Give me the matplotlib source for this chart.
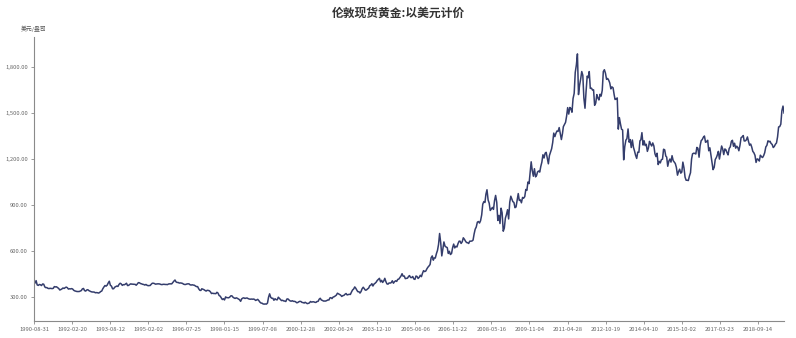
import matplotlib
matplotlib.use('Agg')
import matplotlib.pyplot as plt
import matplotlib.dates as mdates
import matplotlib.ticker as mticker
import pandas as pd

plt.rcParams['font.family'] = ['Noto Sans CJK SC', 'DejaVu Sans']

title = '伦敦现货黄金:以美元计价'
unit = '美元/盎司'

# 半月一个点: 每年 (15日, 月末) x 12 个月
p1990 = [395, 392, 408, 380, 377, 383, 381, 376, 386]
p1991 = [385, 367, 362, 363, 358, 356, 358, 357, 356, 358, 369, 367,
         368, 362, 357, 347, 350, 354, 360, 357, 362, 366, 362, 353]
p1992 = [355, 354, 356, 353, 345, 341, 339, 337, 337, 337, 340, 343,
         354, 357, 343, 340, 347, 349, 343, 339, 336, 334, 334, 333]
p1993 = [329, 330, 329, 327, 330, 337, 340, 355, 366, 376, 372, 378,
         392, 404, 378, 372, 355, 355, 365, 369, 373, 370, 383, 391]
p1994 = [387, 377, 382, 381, 385, 391, 376, 377, 383, 387, 385, 385,
         384, 384, 378, 386, 395, 394, 389, 387, 384, 383, 379, 383]
p1995 = [378, 375, 376, 376, 384, 391, 391, 389, 385, 386, 387, 387,
         386, 383, 382, 384, 384, 383, 383, 382, 386, 387, 387, 387]
p1996 = [396, 405, 412, 400, 396, 396, 392, 393, 392, 390, 385, 383,
         383, 386, 387, 387, 381, 379, 381, 379, 378, 373, 369, 369]
p1997 = [355, 345, 344, 355, 352, 349, 344, 340, 345, 344, 342, 335,
         324, 326, 324, 324, 323, 332, 327, 311, 307, 296, 285, 290]
p1998 = [282, 302, 297, 297, 296, 301, 309, 309, 300, 295, 292, 296,
         293, 288, 284, 273, 289, 294, 296, 292, 294, 295, 291, 288]
p1999 = [287, 288, 287, 288, 286, 279, 282, 286, 278, 268, 262, 261,
         256, 255, 256, 255, 262, 300, 322, 299, 293, 293, 280, 290]
p2000 = [284, 283, 300, 293, 286, 278, 280, 276, 275, 272, 288, 289,
         282, 276, 274, 277, 273, 273, 271, 264, 265, 270, 273, 272]
p2001 = [266, 265, 262, 267, 263, 258, 260, 263, 272, 268, 270, 270,
         267, 266, 272, 273, 287, 293, 282, 279, 275, 275, 275, 278]
p2002 = [282, 282, 296, 297, 291, 301, 303, 308, 313, 326, 322, 318,
         314, 305, 310, 312, 319, 324, 315, 317, 319, 318, 333, 347]
p2003 = [353, 367, 358, 347, 336, 336, 327, 337, 355, 365, 356, 346,
         347, 354, 359, 375, 379, 388, 373, 386, 391, 398, 409, 416]
p2004 = [423, 400, 410, 396, 405, 423, 402, 387, 385, 393, 392, 395,
         407, 391, 401, 407, 403, 416, 418, 428, 438, 453, 437, 438]
p2005 = [421, 423, 424, 434, 441, 428, 428, 435, 419, 416, 438, 435,
         422, 430, 443, 434, 456, 473, 467, 470, 484, 495, 503, 513]
p2006 = [557, 569, 541, 556, 555, 584, 605, 644, 715, 653, 569, 613,
         660, 632, 627, 623, 585, 599, 578, 585, 623, 646, 621, 632]
p2007 = [627, 650, 665, 665, 650, 661, 687, 678, 666, 656, 655, 650,
         665, 665, 666, 672, 712, 743, 757, 789, 793, 783, 798, 836]
p2008 = [906, 923, 917, 971, 1000, 933, 913, 865, 875, 885, 872, 930,
         963, 918, 800, 833, 780, 880, 850, 730, 750, 815, 838, 870]
p2009 = [810, 919, 958, 942, 923, 917, 883, 888, 929, 975, 930, 934,
         915, 950, 945, 955, 1002, 996, 1050, 1040, 1114, 1182, 1125, 1088]
p2010 = [1137, 1084, 1094, 1116, 1122, 1115, 1152, 1180, 1228, 1207, 1238, 1244,
         1208, 1169, 1223, 1246, 1267, 1307, 1369, 1346, 1368, 1383, 1380, 1405]
p2011 = [1367, 1327, 1365, 1411, 1424, 1439, 1480, 1535, 1493, 1536, 1528, 1505,
         1594, 1628, 1764, 1813, 1885, 1620, 1680, 1722, 1770, 1746, 1598, 1531]
p2012 = [1640, 1740, 1730, 1770, 1660, 1662, 1650, 1651, 1550, 1565, 1620, 1598,
         1585, 1622, 1610, 1648, 1770, 1782, 1760, 1719, 1725, 1714, 1696, 1657]
p2013 = [1670, 1664, 1620, 1588, 1592, 1598, 1395, 1470, 1430, 1394, 1390, 1195,
         1280, 1323, 1333, 1396, 1310, 1327, 1275, 1324, 1277, 1253, 1225, 1204]
p2014 = [1245, 1244, 1318, 1326, 1372, 1291, 1319, 1288, 1296, 1250, 1272, 1315,
         1298, 1285, 1305, 1285, 1235, 1216, 1238, 1164, 1185, 1175, 1196, 1199]
p2015 = [1264, 1260, 1220, 1213, 1153, 1187, 1200, 1180, 1222, 1190, 1180, 1171,
         1146, 1095, 1118, 1134, 1108, 1115, 1180, 1142, 1082, 1062, 1062, 1060]
p2016 = [1088, 1111, 1200, 1234, 1238, 1237, 1233, 1276, 1270, 1212, 1287, 1320,
         1327, 1342, 1350, 1309, 1314, 1322, 1254, 1273, 1226, 1178, 1131, 1146]
p2017 = [1197, 1210, 1229, 1250, 1200, 1245, 1285, 1266, 1229, 1266, 1260, 1242,
         1227, 1269, 1279, 1315, 1322, 1283, 1303, 1271, 1284, 1275, 1254, 1291]
p2018 = [1339, 1345, 1353, 1318, 1318, 1325, 1344, 1315, 1290, 1298, 1278, 1250,
         1241, 1224, 1178, 1201, 1198, 1187, 1225, 1215, 1210, 1222, 1241, 1279]
p2019 = [1289, 1319, 1313, 1316, 1302, 1295, 1275, 1282, 1296, 1305, 1344, 1409,
         1411, 1427, 1514, 1545, 1500]

prices = (p1990 + p1991 + p1992 + p1993 + p1994 + p1995 + p1996 + p1997 + p1998
          + p1999 + p2000 + p2001 + p2002 + p2003 + p2004 + p2005 + p2006 + p2007
          + p2008 + p2009 + p2010 + p2011 + p2012 + p2013 + p2014 + p2015 + p2016
          + p2017 + p2018 + p2019)
dates = pd.date_range('1990-08-31', periods=len(prices), freq='SM')

xtick_labels = ['1990-08-31', '1992-02-20', '1993-08-12', '1995-02-02', '1996-07-25',
                '1998-01-15', '1999-07-08', '2000-12-28', '2002-06-24', '2003-12-10',
                '2005-06-06', '2006-11-22', '2008-05-16', '2009-11-04', '2011-04-28',
                '2012-10-19', '2014-04-10', '2015-10-02', '2017-03-23', '2018-09-14']
yticks = [300, 600, 900, 1200, 1500, 1800]

fig = plt.figure(figsize=(7.96, 3.38), dpi=100)
ax = fig.add_axes([0.0427, 0.0503, 0.9423, 0.8402])
ax.plot(dates, prices, color='#343d6c', linewidth=1.1)

ax.set_xlim(dates[0], dates[-1])
ax.set_ylim(145, 1995)
ax.set_xticks(pd.to_datetime(xtick_labels))
ax.set_xticklabels(xtick_labels)
ax.set_yticks(yticks)
ax.yaxis.set_major_formatter(mticker.StrMethodFormatter('{x:,.2f}'))

for s in ['top', 'right']:
    ax.spines[s].set_visible(False)
for s in ['left', 'bottom']:
    ax.spines[s].set_color('#8a8a8a')
    ax.spines[s].set_linewidth(0.8)
ax.tick_params(axis='both', labelsize=4.2, colors='#8a8a8a', labelcolor='#666666',
               length=2.5, width=0.6, pad=2)

fig.text(0.5, 0.96, title, ha='center', va='center', fontsize=8.5,
         fontweight='bold', color='#333333')
fig.text(34 / 796, 1 - 29 / 338, unit, ha='center', va='center', fontsize=4.2,
         color='#555555')

fig.savefig('out.png', dpi=100)
